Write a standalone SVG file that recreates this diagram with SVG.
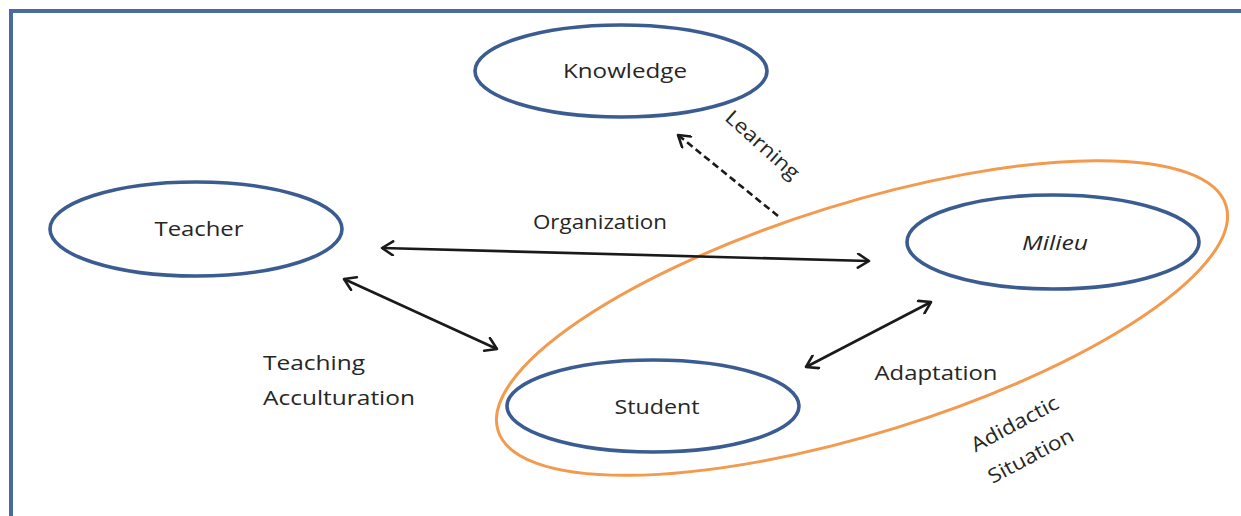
<svg xmlns="http://www.w3.org/2000/svg" width="1241" height="516" viewBox="0 0 1241 516">
<defs>
<marker id="ah" viewBox="-14 -8 16 16" markerWidth="16" markerHeight="16" refX="0" refY="0" orient="auto-start-reverse" markerUnits="userSpaceOnUse">
<polyline points="-11,-7 0,0 -11,7" fill="none" stroke="#1a1a1a" stroke-width="2.6" stroke-linecap="round" stroke-linejoin="round"/>
</marker>
<style>
.node{fill:none;stroke:#3b5c91;stroke-width:3.6}
.lbl{font-family:"Open Sans","Liberation Sans",sans-serif;font-size:20px;fill:#262626;text-anchor:middle}
.lbl2{font-family:"Open Sans","Liberation Sans",sans-serif;font-size:20px;fill:#262626}
.conn{fill:none;stroke:#1a1a1a;stroke-width:2.6}
</style>
</defs>
<rect width="1241" height="516" fill="#ffffff"/>
<path d="M11,516 V11 H1241" fill="none" stroke="#4a6b9f" stroke-width="4"/>
<g id="adidactic">
<ellipse cx="862" cy="318" rx="381" ry="115" transform="rotate(-17.2 862 318)" fill="none" stroke="#f39a4e" stroke-width="3"/>
<text class="lbl" transform="translate(1018 430) rotate(-28)" textLength="96" lengthAdjust="spacingAndGlyphs">Adidactic</text>
<text class="lbl" transform="translate(1034 462) rotate(-28)" textLength="94" lengthAdjust="spacingAndGlyphs">Situation</text>
</g>
<g id="knowledge">
<ellipse class="node" cx="621" cy="71" rx="146" ry="46"/>
<text class="lbl" x="625" y="78" textLength="124" lengthAdjust="spacingAndGlyphs">Knowledge</text>
</g>
<g id="teacher">
<ellipse class="node" cx="196" cy="229" rx="146" ry="47"/>
<text class="lbl" x="199" y="236" textLength="89" lengthAdjust="spacingAndGlyphs">Teacher</text>
</g>
<g id="milieu">
<ellipse class="node" cx="1053" cy="242" rx="146" ry="47"/>
<text class="lbl" x="1055" y="250" font-style="italic" textLength="66" lengthAdjust="spacingAndGlyphs">Milieu</text>
</g>
<g id="student">
<ellipse class="node" cx="653" cy="406" rx="146" ry="46"/>
<text class="lbl" x="657" y="414" textLength="85" lengthAdjust="spacingAndGlyphs">Student</text>
</g>
<g id="connectors">
<line class="conn" x1="382" y1="248" x2="869" y2="261" marker-start="url(#ah)" marker-end="url(#ah)"/>
<text class="lbl" x="600" y="229" textLength="134" lengthAdjust="spacingAndGlyphs">Organization</text>
<line class="conn" x1="344" y1="279" x2="497" y2="349" marker-start="url(#ah)" marker-end="url(#ah)"/>
<text class="lbl2" x="263" y="370" textLength="102" lengthAdjust="spacingAndGlyphs">Teaching</text>
<text class="lbl2" x="263" y="405" textLength="152" lengthAdjust="spacingAndGlyphs">Acculturation</text>
<line class="conn" x1="806" y1="367" x2="931" y2="302" marker-start="url(#ah)" marker-end="url(#ah)"/>
<text class="lbl" x="936" y="380" textLength="123" lengthAdjust="spacingAndGlyphs">Adaptation</text>
<line class="conn" x1="778" y1="216" x2="678" y2="135" stroke-dasharray="7,4" marker-end="url(#ah)"/>
<text class="lbl" transform="translate(758 150) rotate(42)" textLength="92" lengthAdjust="spacingAndGlyphs">Learning</text>
</g>
</svg>
